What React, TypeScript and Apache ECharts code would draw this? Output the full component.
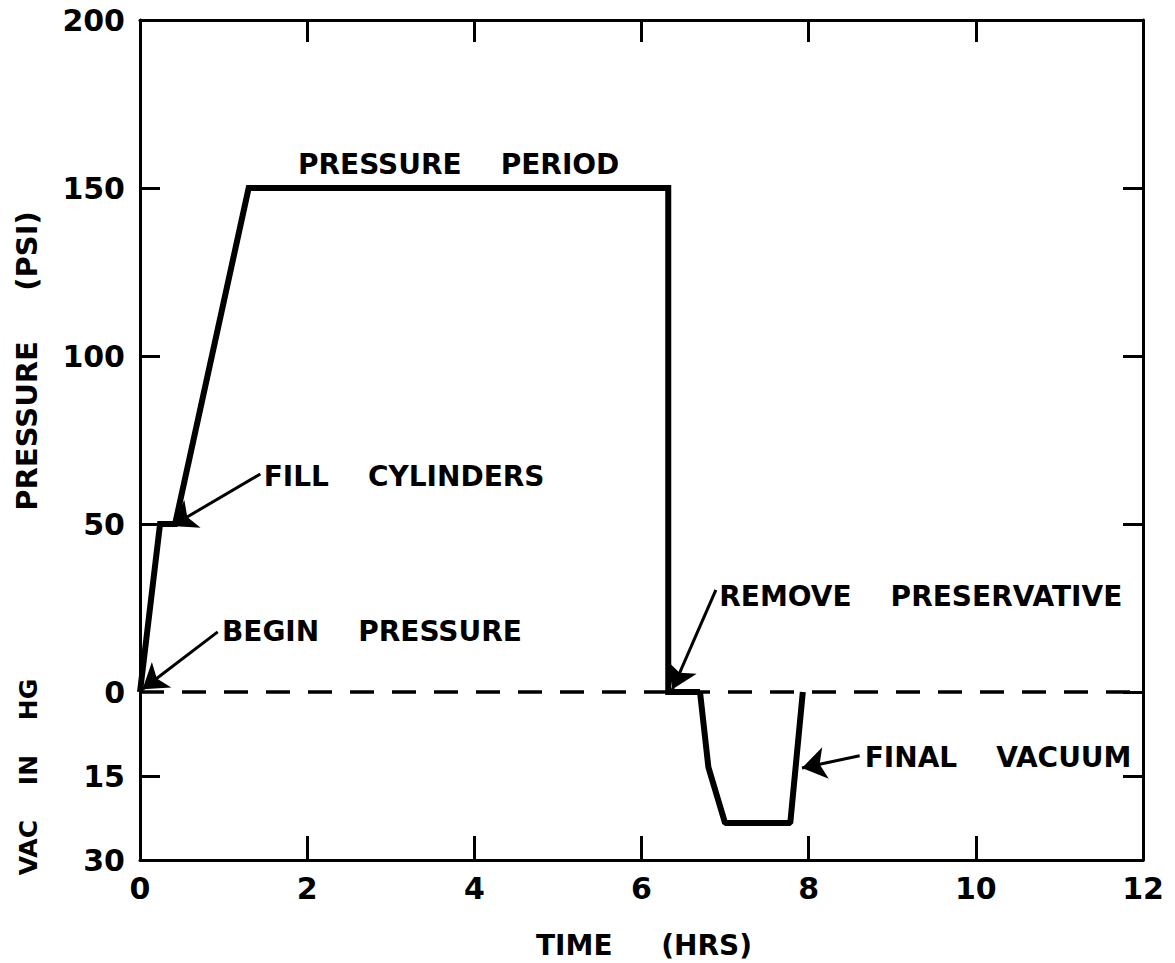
import React, { useEffect, useRef } from 'react';
import * as echarts from 'echarts';

// ---- data ----
// Pressure phase (PSI, above the zero line)
const pressureTime = [0, 0.24, 0.42, 1.3, 6.32, 6.32, 6.7];
const pressurePsi = [0, 50, 50, 150, 150, 0, 0];
// Vacuum phase (inches of Hg, drawn below the zero line)
const vacuumTime = [6.7, 6.8, 7.0, 7.78, 7.93];
const vacuumInHg = [0, 13.4, 23.4, 23.4, 0];

// Axis ticks / labels
const xLabelValues = [0, 2, 4, 6, 8, 10, 12];
const xInnerTicks = [2, 4, 6, 8, 10];
const psiLabels = [0, 50, 100, 150, 200];
const vacLabels = [15, 30];
const leftTickPsi = [50, 100, 150];
const leftTickVac = [15];
const rightTickPsi = [0, 50, 100, 150];
const rightTickVac = [15];

// 15 in Hg spans the same height as 25 psi on the drawing
const VAC_TO_AXIS = 25 / 15;
const vacPos = (v: number) => -v * VAC_TO_AXIS;

// Annotations: label, anchor x (hrs), anchor y (axis units)
const annotationTexts = [
  'PRESSURE    PERIOD',
  'FILL    CYLINDERS',
  'BEGIN    PRESSURE',
  'REMOVE    PRESERVATIVE',
  'FINAL    VACUUM',
];
const annotationAnchors: [number, number][] = [
  [1.89, 157.1],
  [1.48, 64.0],
  [0.98, 17.9],
  [6.93, 28.3],
  [8.67, -19.6],
];
// Arrows: [from, to]
const arrowSegments: [[number, number], [number, number]][] = [
  [[1.44, 64.9], [0.38, 49.4]],
  [[0.93, 17.9], [0.03, 0.8]],
  [[6.89, 30.4], [6.37, 0.8]],
  [[8.61, -19.0], [7.92, -22.6]],
];

const FONT = '"DejaVu Sans", sans-serif';

export default function App() {
  const ref = useRef<HTMLDivElement>(null);

  useEffect(() => {
    const chart = echarts.init(ref.current!, null, { renderer: 'svg' });

    const pressureData = pressureTime.map((t, i) => [t, pressurePsi[i]]);
    const vacuumData = vacuumTime.map((t, i) => [t, vacPos(vacuumInHg[i])]);

    const yLabelPos = [...psiLabels, ...vacLabels.map(vacPos)];
    const leftTicks = [...leftTickPsi, ...leftTickVac.map(vacPos)];
    const rightTicks = [...rightTickPsi, ...rightTickVac.map(vacPos)];

    const axisLineStyle = { color: '#000', width: 3 };

    const option: any = {
      animation: false,
      backgroundColor: '#fff',
      grid: { left: 140, right: 32, top: 20, bottom: 103, containLabel: false },
      xAxis: [
        {
          type: 'value',
          position: 'bottom',
          min: 0,
          max: 12,
          interval: 2,
          axisLine: { show: true, onZero: false, lineStyle: axisLineStyle },
          axisTick: {
            show: true,
            inside: true,
            length: 24,
            lineStyle: { color: '#000', width: 3 },
            customValues: xInnerTicks,
          },
          axisLabel: {
            show: true,
            margin: 13,
            fontSize: 30,
            fontWeight: 'bold',
            fontFamily: FONT,
            color: '#000',
            customValues: xLabelValues,
          },
          splitLine: { show: false },
        },
        {
          type: 'value',
          position: 'top',
          min: 0,
          max: 12,
          interval: 2,
          axisLine: { show: true, onZero: false, lineStyle: axisLineStyle },
          axisTick: {
            show: true,
            inside: true,
            length: 22,
            lineStyle: { color: '#000', width: 3 },
            customValues: xInnerTicks,
          },
          axisLabel: { show: false },
          splitLine: { show: false },
        },
      ],
      yAxis: [
        {
          type: 'value',
          position: 'left',
          min: -50,
          max: 200,
          interval: 25,
          axisLine: { show: true, onZero: false, lineStyle: axisLineStyle },
          axisTick: {
            show: true,
            inside: true,
            length: 20,
            lineStyle: { color: '#000', width: 3 },
            customValues: leftTicks,
          },
          axisLabel: {
            show: true,
            margin: 15,
            fontSize: 30,
            fontWeight: 'bold',
            fontFamily: FONT,
            color: '#000',
            customValues: yLabelPos,
            formatter: (v: number) =>
              v < 0 ? String(Math.round(-v / VAC_TO_AXIS)) : String(v),
          },
          splitLine: { show: false },
        },
        {
          type: 'value',
          position: 'right',
          min: -50,
          max: 200,
          interval: 25,
          axisLine: { show: true, onZero: false, lineStyle: axisLineStyle },
          axisTick: {
            show: true,
            inside: true,
            length: 20,
            lineStyle: { color: '#000', width: 3 },
            customValues: rightTicks,
          },
          axisLabel: { show: false },
          splitLine: { show: false },
        },
      ],
      series: [
        {
          type: 'line',
          name: 'Pressure',
          xAxisIndex: 0,
          yAxisIndex: 0,
          data: pressureData,
          showSymbol: false,
          symbol: 'none',
          lineStyle: { color: '#000', width: 6, join: 'miter' },
          silent: true,
          z: 5,
          markLine: {
            silent: true,
            symbol: ['none', 'arrow'],
            symbolSize: [0, 24],
            label: { show: false },
            lineStyle: { color: '#000', width: 3, type: 'solid' },
            data: arrowSegments.map(([a, b]) => [
              { coord: a, symbol: 'none' },
              { coord: b, symbol: 'arrow', symbolSize: 24 },
            ]),
          },
          markPoint: {
            silent: true,
            symbol: 'circle',
            symbolSize: 0,
            itemStyle: { color: 'transparent' },
            label: {
              show: true,
              position: 'right',
              distance: 0,
              color: '#000',
              fontSize: 28,
              fontWeight: 'bold',
              fontFamily: FONT,
            },
            data: annotationAnchors.map((c, i) => ({
              coord: c,
              value: 0,
              label: { formatter: annotationTexts[i] },
            })),
          },
        },
        {
          type: 'line',
          name: 'Vacuum',
          xAxisIndex: 0,
          yAxisIndex: 0,
          data: vacuumData,
          showSymbol: false,
          symbol: 'none',
          lineStyle: { color: '#000', width: 6 },
          silent: true,
          z: 5,
          markLine: {
            silent: true,
            symbol: ['none', 'none'],
            label: { show: false },
            lineStyle: { color: '#000', width: 3.5, type: [24, 18] },
            data: [{ yAxis: 0 }],
          },
        },
      ],
      graphic: [
        {
          type: 'text',
          x: 27,
          y: 361,
          rotation: Math.PI / 2,
          style: {
            text: 'PRESSURE     (PSI)',
            font: `bold 29px ${FONT}`,
            fill: '#000',
            align: 'center',
            verticalAlign: 'middle',
          },
        },
        {
          type: 'text',
          x: 28,
          y: 777,
          rotation: Math.PI / 2,
          style: {
            text: 'VAC    IN    HG',
            font: `bold 25px ${FONT}`,
            fill: '#000',
            align: 'center',
            verticalAlign: 'middle',
          },
        },
        {
          type: 'text',
          x: 536,
          y: 945,
          style: {
            text: 'TIME     (HRS)',
            font: `bold 28px ${FONT}`,
            fill: '#000',
            align: 'left',
            verticalAlign: 'middle',
          },
        },
      ],
    };

    chart.setOption(option);
    return () => chart.dispose();
  }, []);

  return (
    <div
      ref={ref}
      style={{ position: 'fixed', left: 0, top: 0, width: 1175, height: 963, background: '#fff' }}
    />
  );
}
